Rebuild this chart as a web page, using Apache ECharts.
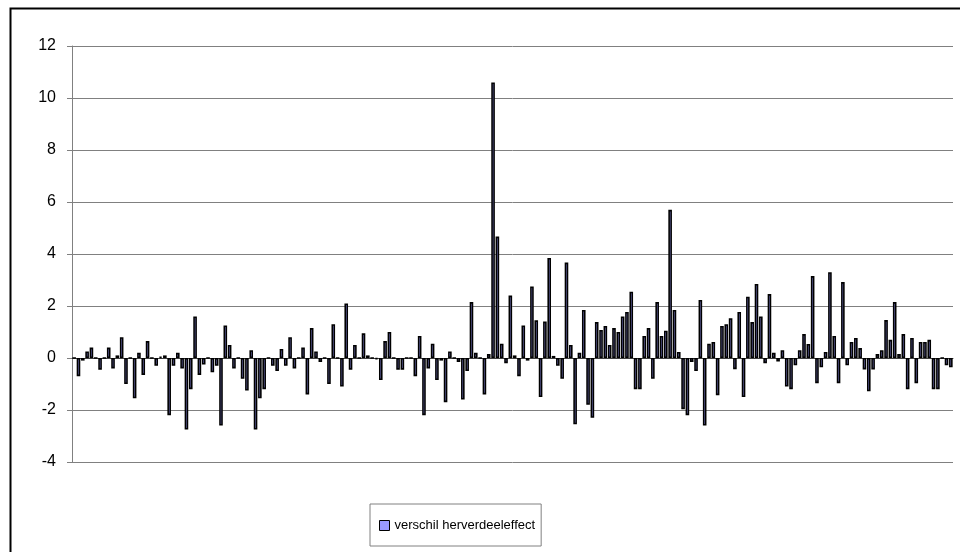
<!DOCTYPE html>
<html>
<head>
<meta charset="utf-8">
<script src="https://cdn.jsdelivr.net/npm/echarts@6/dist/echarts.min.js"></script>
<style>
  html, body { margin: 0; padding: 0; background: #fff; }
  #chart { width: 960px; height: 552px; }
</style>
</head>
<body>
<div id="chart"></div>
<script>
const values = [
  0,
  -0.7, -0.1, 0.25, 0.4, 0, -0.45, 0, 0.4, -0.4, 0.1,
  0.8, -1.0, 0, -1.55, 0.2, -0.65, 0.65, 0, -0.3, 0.05,
  0.1, -2.2, -0.3, 0.2, -0.4, -2.75, -1.2, 1.6, -0.65, -0.25,
  0, -0.55, -0.3, -2.6, 1.25, 0.5, -0.4, 0, -0.8, -1.25,
  0.3, -2.75, -1.55, -1.2, 0, -0.3, -0.5, 0.35, -0.3, 0.8,
  -0.4, 0, 0.4, -1.4, 1.15, 0.25, -0.15, 0, -1.0, 1.3,
  0, -1.1, 2.1, -0.45, 0.5, 0, 0.95, 0.1, 0, -0.05,
  -0.85, 0.65, 1.0, 0, -0.45, -0.45, 0, 0, -0.7, 0.85,
  -2.2, -0.4, 0.55, -0.85, -0.1, -1.7, 0.25, 0, -0.15, -1.6,
  -0.5, 2.15, 0.2, 0, -1.4, 0.15, 10.6, 4.67, 0.55, -0.2,
  2.4, 0.1, -0.7, 1.25, -0.1, 2.75, 1.45, -1.5, 1.4, 3.85,
  0.08, -0.3, -0.8, 3.67, 0.5, -2.55, 0.2, 1.85, -1.8, -2.3,
  1.38, 1.08, 1.23, 0.5, 1.15, 1.0, 1.6, 1.77, 2.55, -1.2,
  -1.2, 0.85, 1.15, -0.8, 2.15, 0.85, 1.05, 5.7, 1.85, 0.23,
  -1.97, -2.2, -0.15, -0.5, 2.23, -2.6, 0.55, 0.62, -1.43, 1.23,
  1.3, 1.53, -0.43, 1.77, -1.5, 2.36, 1.38, 2.85, 1.6, -0.2,
  2.46, 0.2, -0.13, 0.3, -1.1, -1.2, -0.28, 0.3, 0.92, 0.54,
  3.15, -0.97, -0.36, 0.23, 3.3, 0.85, -0.97, 2.92, -0.28, 0.62,
  0.77, 0.38, -0.44, -1.28, -0.44, 0.15, 0.3, 1.46, 0.7, 2.15,
  0.15, 0.92, -1.2, 0.77, -0.97, 0.62, 0.62, 0.7, -1.2, -1.2,
  0, -0.28, -0.36
];
const categories = values.map((_, i) => String(i + 1));
const yTicks = [-4, -2, 0, 2, 4, 6, 8, 10, 12];
const seriesName = 'verschil herverdeeleffect';

const chart = echarts.init(document.getElementById('chart'), null, { renderer: 'canvas' });

chart.setOption({
  animation: false,
  backgroundColor: '#fff',
  textStyle: { fontFamily: 'Liberation Sans, Arial, sans-serif' },
  // kader rond de grafiek
  graphic: [{
    type: 'rect',
    left: 8,
    top: 6,
    shape: { width: 970, height: 570 },
    style: { fill: 'none', stroke: '#000', lineWidth: 2 },
    silent: true
  }],
  grid: {
    left: 72,
    right: 7,
    top: 46,
    bottom: 90
  },
  legend: {
    data: [seriesName],
    left: 370,
    top: 504,
    orient: 'horizontal',
    icon: 'rect',
    itemWidth: 10,
    itemHeight: 10,
    itemGap: 5,
    padding: [15, 6, 14, 9],
    borderColor: '#808080',
    borderWidth: 1,
    textStyle: { color: '#000', fontSize: 13, fontFamily: 'Liberation Sans, Arial, sans-serif' },
    itemStyle: { color: '#9999ff', borderColor: '#000', borderWidth: 1 }
  },
  xAxis: {
    type: 'category',
    data: categories,
    boundaryGap: true,
    axisLine: { show: true, onZero: true, lineStyle: { color: '#404040', width: 1 } },
    axisTick: { show: false },
    axisLabel: { show: false },
    splitLine: { show: false }
  },
  yAxis: {
    type: 'value',
    min: yTicks[0],
    max: yTicks[yTicks.length - 1],
    interval: 2,
    axisLine: { show: true, lineStyle: { color: '#808080', width: 1 } },
    axisTick: { show: true, inside: false, length: 5, lineStyle: { color: '#808080' } },
    axisLabel: {
      color: '#000',
      fontSize: 16,
      margin: 16,
      fontFamily: 'Liberation Sans, Arial, sans-serif'
    },
    splitLine: { show: true, lineStyle: { color: '#808080', width: 1 } }
  },
  series: [{
    name: seriesName,
    type: 'bar',
    data: values,
    barWidth: 3.6,
    itemStyle: {
      color: '#9999ff',
      borderColor: '#000',
      borderWidth: 1.6
    }
  }]
});
</script>
</body>
</html>
